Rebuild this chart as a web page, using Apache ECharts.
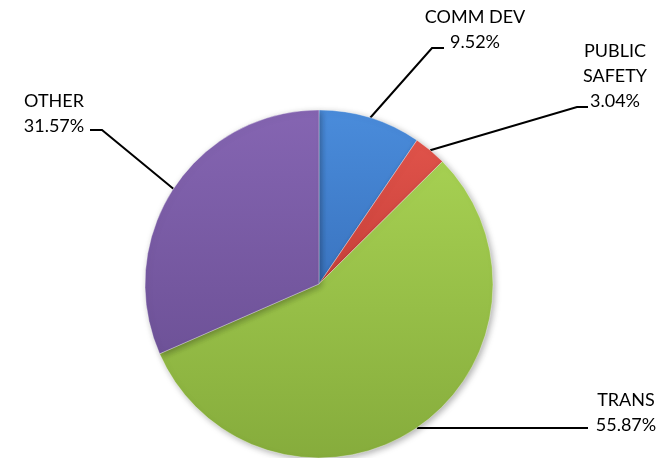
<!DOCTYPE html>
<html>
<head>
<meta charset="utf-8">
<script src="https://cdn.jsdelivr.net/npm/echarts@6/dist/echarts.min.js"></script>
<style>
  html, body { margin: 0; padding: 0; background: #fff; }
  #pie-main { width: 660px; height: 458px; }
</style>
</head>
<body>
<div id="pie-main"></div>
<script>
// slice data, clockwise from 12 o'clock
const categories = ["COMM DEV", "PUBLIC SAFETY", "TRANS", "OTHER"];
const labelNames = ["COMM DEV", "PUBLIC\nSAFETY", "TRANS", "OTHER"];
const shares = [9.52, 3.04, 55.87, 31.57];

// [top, bottom] gradient colours per slice
const sliceColors = [
  ["#4a8cdb", "#3a74c0"],
  ["#e0534a", "#c8403a"],
  ["#a6d052", "#86ac3c"],
  ["#8565b2", "#6e5298"]
];

// label block centre x / top y, where its leader line ends, and the knee
// (kneeX null = straight line from the slice)
const labelBoxes = [
  { x: 475, y: 5, endX: 444, endY: 48, kneeX: 432 },
  { x: 615, y: 39, endX: 588, endY: 107, kneeX: 577 },
  { x: 626, y: 388, endX: 588, endY: null, kneeX: null },
  { x: 54, y: 89, endX: 90, endY: 130, kneeX: 102 }
];

var chartDom = document.getElementById("pie-main");
var myChart = echarts.init(chartDom);

var option = {
  backgroundColor: "#fff",
  animation: false,
  series: [
    {
      type: "pie",
      center: [319, 284],
      radius: 174,
      startAngle: 90,
      clockwise: true,
      data: categories.map(function (c, i) {
        return {
          name: c,
          value: shares[i],
          itemStyle: {
            color: new echarts.graphic.LinearGradient(0, 0, 0, 1, [
              { offset: 0, color: sliceColors[i][0] },
              { offset: 1, color: sliceColors[i][1] }
            ])
          }
        };
      }),
      itemStyle: {
        borderColor: "rgba(255,255,255,0.35)",
        borderWidth: 1,
        shadowBlur: 6,
        shadowOffsetX: 2,
        shadowOffsetY: 2,
        shadowColor: "rgba(0,0,0,0.3)"
      },
      label: {
        show: true,
        position: "outside",
        formatter: function (p) {
          return labelNames[p.dataIndex] + "\n" + shares[p.dataIndex].toFixed(2) + "%";
        },
        fontFamily: "Lato",
        fontSize: 18,
        lineHeight: 25,
        color: "#000",
        align: "center"
      },
      labelLine: {
        show: true,
        length: 20,
        length2: 10,
        lineStyle: { color: "#000", width: 2 }
      },
      labelLayout: function (params) {
        var b = labelBoxes[params.dataIndex];
        var anchor = params.labelLinePoints[0];
        var pts;
        if (b.kneeX === null) {
          pts = [anchor, [b.endX, anchor[1]]];
        } else {
          pts = [anchor, [b.kneeX, b.endY], [b.endX, b.endY]];
        }
        return {
          x: b.x,
          y: b.y,
          align: "center",
          verticalAlign: "top",
          labelLinePoints: pts
        };
      },
      emphasis: { disabled: true }
    }
  ]
};

option && myChart.setOption(option);
</script>
</body>
</html>
